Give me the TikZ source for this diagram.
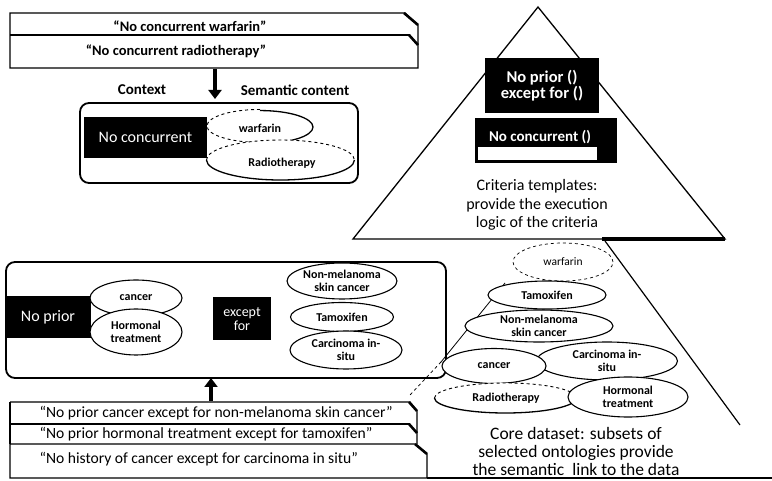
\documentclass[tikz,border=0pt]{standalone}
\usepackage{fontspec}
\setmainfont{Carlito}
\usetikzlibrary{shapes.geometric,arrows.meta}
\begin{document}
\begin{tikzpicture}[x=1pt,y=-1pt,
  ell/.style={ellipse, draw, line width=1.1pt, fill=white, inner sep=0pt, align=center,
              font=\fontsize{12}{13}\selectfont\bfseries},
  blk/.style={fill=black, text=white, inner sep=0pt, align=center},
  doc/.style={line width=1.1pt},
  fold/.style={line width=2.6pt},
  frame/.style={draw, rounded corners=9pt, line width=1.8pt},
  bigarrow/.style={line width=4.5pt, -{Triangle[width=13pt,length=9pt]}},
  quote/.style={font=\fontsize{14.5}{15}\selectfont\bfseries},
  quoteb/.style={font=\fontsize{15.6}{16}\selectfont, anchor=west},
  lbl/.style={font=\fontsize{15}{15}\selectfont\bfseries}]
\useasboundingbox (0,0) rectangle (772,481);

% ---------- top documents ----------
\draw[doc] (10,13) -- (405,13) -- (418,25) -- (418,68) -- (10,68) -- cycle;
\draw[doc] (10,35) -- (410,35);
\draw[fold] (404,13) -- (418,25);
\draw[fold] (409,35) -- (418,45);
\node[quote] (q1) at (190,26) {“No concurrent warfarin”};
\node[quote] (q2) at (176,51) {“No concurrent radiotherapy”};

\coordinate (a1s) at (215,69);
\coordinate (a1e) at (215,99);
\draw[bigarrow] (a1s) -- (a1e);
\node[lbl] (ctx) at (142,90) {Context};
\node[lbl] (sem) at (295,90) {Semantic content};

% ---------- context box ----------
\node[frame, minimum width=278pt, minimum height=80pt] (ctxframe) at (219,143) {};
\node[blk, minimum width=123pt, minimum height=41pt, font=\fontsize{16}{16}\selectfont] (nc) at (145.5,137.5) {No concurrent};
\node[ell, draw=none, minimum width=106pt, minimum height=33pt] (w1) at (260,126.5) {};
\draw[dashed, line width=0.9pt] (w1.north) arc[start angle=90, end angle=270, x radius=53pt, y radius=16.5pt];
\draw[line width=1.3pt] (w1.south) arc[start angle=-90, end angle=90, x radius=53pt, y radius=16.5pt];
\node[font=\fontsize{12}{13}\selectfont\bfseries] (w1t) at (260,128) {warfarin};
\node[ell, draw=none, minimum width=148pt, minimum height=40pt] (r1) at (281,160) {};
\draw[dashed, line width=0.9pt] (r1.west) arc[start angle=180, end angle=0, x radius=74pt, y radius=20pt];
\draw[line width=1.3pt] (r1.west) arc[start angle=180, end angle=360, x radius=74pt, y radius=20pt];
\node[font=\fontsize{12}{13}\selectfont\bfseries] (r1t) at (282,163) {Radiotherapy};

% ---------- triangle ----------
\coordinate (apex) at (538,7);
\coordinate (bl) at (353,239);
\coordinate (br) at (725,239);
\draw[line width=1.3pt] (apex) -- (br) -- (bl) -- cycle;
\draw[line width=4pt] (602,239) -- (br);
\node[blk, minimum width=114pt, minimum height=55pt, font=\fontsize{16.5}{16}\selectfont\bfseries] (t1) at (542,85.5) {No prior ()\\except for ()};
\node[blk, minimum width=142pt, minimum height=45pt] (t2) at (546,140.5) {};
\fill[white] (478,147) rectangle (597,160);
\node[text=white, font=\fontsize{15}{15}\selectfont\bfseries] (t2t) at (540,137) {No concurrent ()};
\node[align=center, font=\fontsize{16}{18.5}\selectfont] (crit) at (537,205) {Criteria templates:\\provide the execution\\logic of the criteria};

% ---------- lower pyramid ----------
\coordinate (pr1) at (605,241);
\coordinate (pr2) at (740,425);
\coordinate (pl1) at (505,283);
\coordinate (pl2) at (441,362);
\coordinate (pl3) at (410,395);
\draw[line width=1.2pt] (pr1) -- (pr2);
\draw[line width=0.8pt] (pl1) -- (pl2);
\draw[dashed, line width=0.8pt] (pl2) -- (pl3);
\draw[line width=1.4pt] (427,478) -- (772,478);

% ---------- exception box ----------
\node[frame, minimum width=440pt, minimum height=116pt] (exframe) at (226,320) {};
\node[blk, minimum width=86pt, minimum height=42pt, font=\fontsize{16}{16}\selectfont] (np) at (48,317.5) {No prior};
\node[ell, minimum width=92pt, minimum height=36pt] (ca1) at (136,298) {cancer};
\node[ell, minimum width=92pt, minimum height=46pt] (ho1) at (136,332) {Hormonal\\treatment};
\node[blk, minimum width=58pt, minimum height=43pt, font=\fontsize{14}{14}\selectfont] (ef) at (242,319) {except\\for};
\node[ell, minimum width=108pt, minimum height=36pt] (nm1) at (342,281) {Non-melanoma\\skin cancer};
\node[ell, minimum width=103pt, minimum height=29pt] (ta1) at (342,317) {Tamoxifen};
\node[ell, minimum width=112pt, minimum height=38pt] (cs1) at (346,350) {Carcinoma in-\\situ};

\coordinate (a2s) at (211,401);
\coordinate (a2e) at (211,378);
\draw[bigarrow] (a2s) -- (a2e);

% ---------- bottom documents ----------
\draw[doc] (10,402) -- (410,402) -- (417,411) -- (417,444);
\draw[doc] (10,424) -- (410,424);
\draw[doc] (10,444) -- (415,444) -- (427,454) -- (427,478) -- (10,478) -- cycle;
\draw[doc] (10,402) -- (10,444);
\draw[fold] (409,402) -- (417,411);
\draw[fold] (409,424) -- (417,433);
\draw[fold] (415,444) -- (427,454);
\node[quoteb] (b1) at (36,413) {“No prior cancer except for non-melanoma skin cancer”};
\node[quoteb] (b2) at (36,434) {“No prior hormonal treatment except for tamoxifen”};
\node[quoteb] (b3) at (36,459) {“No history of cancer except for carcinoma in situ”};

% ---------- core dataset ----------
\node[ellipse, draw, dashed, line width=0.7pt, minimum width=100pt, minimum height=38pt, inner sep=0pt, font=\fontsize{11.5}{12}\selectfont] (w2) at (563,262) {warfarin};
\node[ell, minimum width=118pt, minimum height=28pt] (ta2) at (547,295) {Tamoxifen};
\node[ell, minimum width=148pt, minimum height=32pt] (nm2) at (539,326) {Non-melanoma\\skin cancer};
\node[ell, minimum width=141pt, minimum height=38pt] (cs2) at (607,361) {Carcinoma in-\\situ};
\node[ell, minimum width=104pt, minimum height=35pt] (ca2) at (494,366) {cancer};
\node[ell, draw=none, minimum width=142pt, minimum height=30pt] (r2) at (506,398) {};
\draw[dashed, line width=0.9pt] (r2.west) arc[start angle=180, end angle=0, x radius=71pt, y radius=15pt];
\draw[line width=1.3pt] (r2.west) arc[start angle=180, end angle=360, x radius=71pt, y radius=15pt];
\node[font=\fontsize{12}{13}\selectfont\bfseries] (r2t) at (506,398) {Radiotherapy};
\node[ell, minimum width=120pt, minimum height=40pt] (ho2) at (628,397) {Hormonal\\treatment};
\node[align=center, font=\fontsize{17.5}{18}\selectfont] (core) at (576,451) {Core dataset: subsets of\\selected ontologies provide\\the semantic\ \ link to the data};
\end{tikzpicture}
\end{document}
